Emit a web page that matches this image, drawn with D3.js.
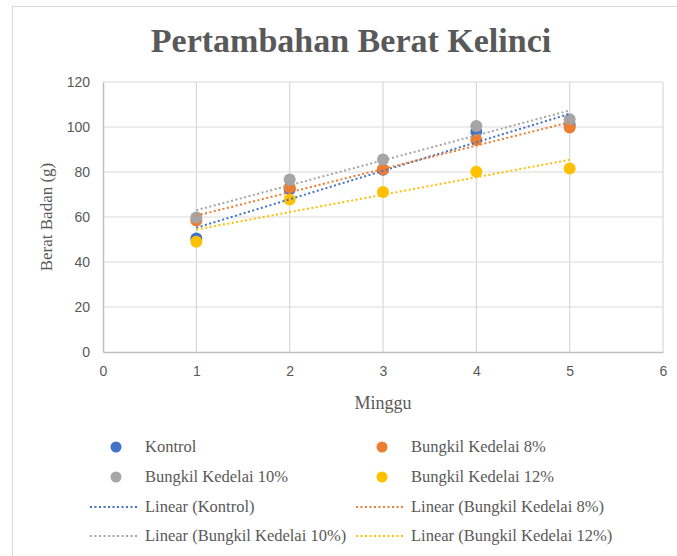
<!DOCTYPE html>
<html>
<head>
<meta charset="utf-8">
<script src="https://cdn.jsdelivr.net/npm/d3@7"></script>
<style>
    html, body {
        margin: 0;
        padding: 0;
        background: #fff;
    }
    svg text {
        fill: #595959;
    }
    .tick text {
        font-family: "Liberation Sans", Arial, sans-serif;
        font-size: 14px;
    }
</style>
</head>
<body>
<svg id="chart"></svg>
<script>

    var weeks = [1, 2, 3, 4, 5];
    var seriesNames = ['Kontrol', 'Bungkil Kedelai 8%', 'Bungkil Kedelai 10%', 'Bungkil Kedelai 12%'];
    var kontrol = [50.5, 72.3, 81, 97.9, 101];
    var kedelai8 = [58.4, 73.2, 81.2, 94.2, 99.8];
    var kedelai10 = [59.8, 76.7, 85.6, 100.4, 103.4];
    var kedelai12 = [49, 67.8, 71.1, 80.1, 81.6];
    var colors = ['#4472C4', '#ED7D31', '#A5A5A5', '#FFC000'];
    var xTicks = [0, 1, 2, 3, 4, 5, 6];
    var yTicks = [0, 20, 40, 60, 80, 100, 120];

    var SERIF = '"Liberation Serif", "Times New Roman", serif';

    var width = 677,
        height = 556,
        margin = {top: 82, left: 103};

    var svg = d3.select('#chart')
        .attr('width', width)
        .attr('height', height);

    // chart border
    svg.append('rect')
        .attr('x', 12.5).attr('y', 6.5)
        .attr('width', width).attr('height', height)
        .attr('fill', 'none')
        .attr('stroke', '#d9d9d9');

    var x = d3.scaleLinear().domain([0, 6]).range([margin.left, 663]);
    var y = d3.scaleLinear().domain([0, 120]).range([352, margin.top]);

    // gridlines
    svg.append('g')
        .selectAll('line')
        .data(yTicks.slice(1))
        .join('line')
        .attr('x1', x(0)).attr('x2', x(6))
        .attr('y1', d => y(d)).attr('y2', d => y(d))
        .attr('stroke', '#d9d9d9').attr('stroke-width', 1.2);

    svg.append('g')
        .selectAll('line')
        .data(xTicks.slice(1))
        .join('line')
        .attr('x1', d => x(d)).attr('x2', d => x(d))
        .attr('y1', y(0)).attr('y2', y(120))
        .attr('stroke', '#d9d9d9').attr('stroke-width', 1.2);

    // axes
    var xAxis = svg.append('g')
        .attr('transform', 'translate(0,' + y(0) + ')')
        .call(d3.axisBottom(x).tickValues(xTicks).tickFormat(d3.format('d')).tickSize(0).tickPadding(14));
    xAxis.select('.domain').attr('stroke', '#bfbfbf').attr('stroke-width', 1.5);

    var yAxis = svg.append('g')
        .attr('transform', 'translate(' + x(0) + ',0)')
        .call(d3.axisLeft(y).tickValues(yTicks).tickFormat(d3.format('d')).tickSize(0).tickPadding(13));
    yAxis.select('.domain').attr('stroke', '#bfbfbf').attr('stroke-width', 1.5);

    // title & axis labels
    svg.append('text')
        .attr('x', 351).attr('y', 52)
        .attr('text-anchor', 'middle')
        .attr('font-family', SERIF)
        .attr('font-size', 34)
        .attr('font-weight', 'bold')
        .text('Pertambahan Berat Kelinci');

    svg.append('text')
        .attr('x', 383).attr('y', 409)
        .attr('text-anchor', 'middle')
        .attr('font-family', SERIF)
        .attr('font-size', 18)
        .text('Minggu');

    svg.append('text')
        .attr('transform', 'translate(52,217) rotate(-90)')
        .attr('text-anchor', 'middle')
        .attr('font-family', SERIF)
        .attr('font-size', 17)
        .text('Berat Badan (g)');

    var allSeries = [kontrol, kedelai8, kedelai10, kedelai12];

    // least squares trendline from series values
    function fit(vals) {
        var mx = d3.mean(weeks), my = d3.mean(vals);
        var num = d3.sum(weeks, (w, i) => (w - mx) * (vals[i] - my));
        var den = d3.sum(weeks, w => (w - mx) * (w - mx));
        var b = num / den, a = my - b * mx;
        return [[1, a + b], [5, a + 5 * b]];
    }

    // points
    allSeries.forEach(function(vals, s) {
        svg.append('g')
            .selectAll('circle')
            .data(vals)
            .join('circle')
            .attr('cx', (d, i) => x(weeks[i]))
            .attr('cy', d => y(d))
            .attr('r', 6)
            .attr('fill', colors[s]);
    });

    // trendlines
    var line = d3.line().x(d => x(d[0])).y(d => y(d[1]));
    allSeries.forEach(function(vals, s) {
        svg.append('path')
            .attr('d', line(fit(vals)))
            .attr('fill', 'none')
            .attr('stroke', colors[s])
            .attr('stroke-width', 2)
            .attr('stroke-dasharray', '2,2.5');
    });

    // legend
    var legendItems = [];
    seriesNames.forEach(function(n, i) { legendItems.push({type: 'dot', label: n, color: colors[i]}); });
    seriesNames.forEach(function(n, i) { legendItems.push({type: 'line', label: 'Linear (' + n + ')', color: colors[i]}); });

    var colX = [90, 356], rowY = [447, 477, 507, 536];
    legendItems.forEach(function(item, i) {
        var cx = colX[i % 2], cy = rowY[Math.floor(i / 2)];
        var g = svg.append('g').attr('transform', 'translate(' + cx + ',' + cy + ')');
        if (item.type === 'dot') {
            g.append('circle').attr('cx', 26).attr('cy', 0).attr('r', 5.5).attr('fill', item.color);
        } else {
            g.append('line').attr('x1', 0).attr('x2', 48).attr('y1', 0).attr('y2', 0)
                .attr('stroke', item.color).attr('stroke-width', 2).attr('stroke-dasharray', '2,2.5');
        }
        g.append('text')
            .attr('x', 55)
            .attr('y', 5)
            .attr('font-family', SERIF)
            .attr('font-size', 16.5)
            .text(item.label);
    });

</script>
</body>
</html>
